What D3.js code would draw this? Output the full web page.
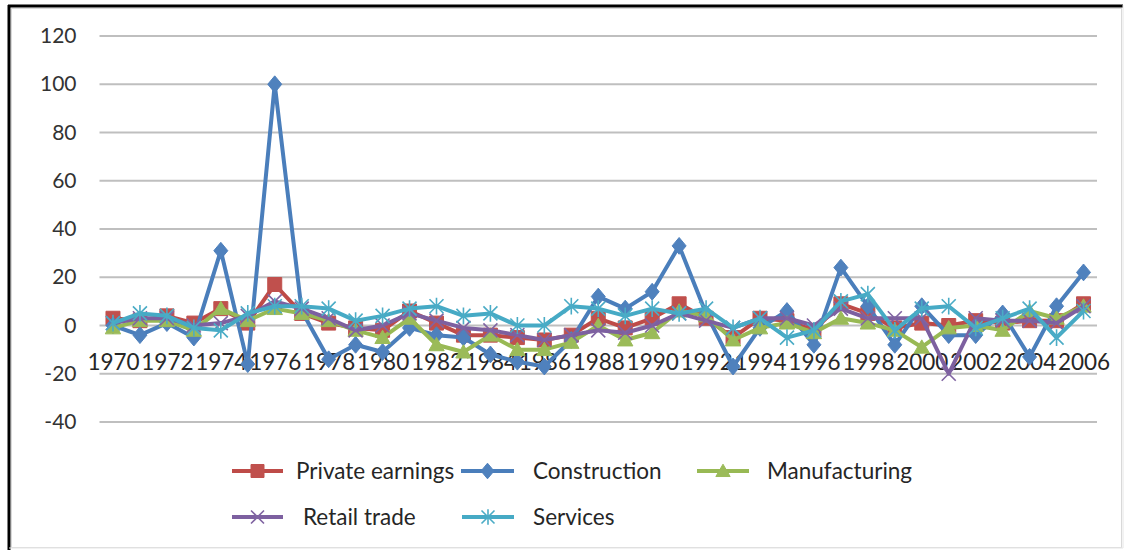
<!DOCTYPE html>
<html><head><meta charset="utf-8">
<script src="https://cdn.jsdelivr.net/npm/d3@7"></script>
<style>
html,body{margin:0;padding:0;background:#fff;}
svg{display:block;font-family:Lato,"Open Sans",sans-serif;}
</style></head>
<body><svg id="c" width="1130" height="550"></svg>
<script>
const years = d3.range(1970, 2007);
const tickYears = years.filter(y => y % 2 === 0);
const yTicks = [-40, -20, 0, 20, 40, 60, 80, 100, 120];
const seriesNames = ["Private earnings", "Construction", "Manufacturing", "Retail trade", "Services"];
const privateEarnings = [3, 2, 4, 1, 7, 1, 17, 5, 1, -1, -2, 6, 1, -4, -4, -5, -6, -4, 3, -1, 3, 9, 3, -5, 3, 2, -2, 9, 5, -1, 1, 0, 2, 1, 2, 2, 9];
const construction = [0, -4, 1, -5, 31, -16, 100, 6, -14, -8, -11, -1, -4, -5, -12, -15, -17, -6, 12, 7, 14, 33, 5, -17, -1, 6, -8, 24, 8, -8, 8, -4, -4, 5, -13, 8, 22];
const manufacturing = [-1, 2, 2, -2, 7, 2, 7, 5, 2, -2, -5, 3, -8, -11, -4, -10, -10, -7, 0, -6, -3, 6, 4, -6, -1, 1, -3, 3, 1, -2, -9, -1, 0, -2, 6, 3, 8];
const retailTrade = [1, 3, 3, 0, 1, 4, 10, 7, 3, -2, 0, 5, 2, -1, -2, -4, -6, -4, -2, -3, 0, 5, 2, -1, 3, 3, 0, 7, 3, 3, 3, -20, 3, 2, 2, 1, 8];
const services = [1, 5, 4, -1, -2, 5, 8, 8, 7, 2, 4, 7, 8, 4, 5, 0, 0, 8, 7, 4, 7, 5, 7, -1, 3, -5, -2, 10, 13, -2, 7, 8, -1, 3, 7, -5, 6];
const seriesValues = [privateEarnings, construction, manufacturing, retailTrade, services];
const lineColors = ["#BE4B48", "#4A7EBB", "#98B954", "#7D60A0", "#46AAC5"];
const markerFill = ["#C0504D", "#4F81BD", "#9BBB59", "#8064A2", "#4BACC6"];
const markerTypes = ["square", "diamond", "triangle", "x", "star"];

const svg = d3.select("#c");

// frame
svg.append("rect").attr("x", 11.5).attr("y", 8.5).attr("width", 1110).attr("height", 539)
  .attr("fill", "#fff").attr("stroke", "#d9d9d9").attr("stroke-width", 1);
svg.append("line").attr("x1", 8).attr("x2", 1123).attr("y1", 6).attr("y2", 6).attr("stroke", "#000").attr("stroke-width", 3);
svg.append("line").attr("x1", 9).attr("x2", 9).attr("y1", 5).attr("y2", 550).attr("stroke", "#000").attr("stroke-width", 3);
svg.append("line").attr("x1", 1123).attr("x2", 1123).attr("y1", 5).attr("y2", 548).attr("stroke", "#e6e6e6").attr("stroke-width", 1);
svg.append("line").attr("x1", 9).attr("x2", 1123).attr("y1", 548).attr("y2", 548).attr("stroke", "#e6e6e6").attr("stroke-width", 1);

const x = d3.scalePoint().domain(years).range([99.5, 1097]).padding(0.5);
const y = d3.scaleLinear().domain([-40, 120]).range([422, 36]);

// gridlines
svg.append("g").selectAll("line").data(yTicks).join("line")
  .attr("x1", 99.5).attr("x2", 1097)
  .attr("y1", d => y(d)).attr("y2", d => y(d))
  .attr("stroke", "#bfbfbf").attr("stroke-width", 2);

// y axis
const gy = svg.append("g").attr("transform", "translate(99.5,0)")
  .call(d3.axisLeft(y).tickValues(yTicks).tickSize(0).tickPadding(23).tickFormat(d => String(d)));
gy.select(".domain").remove();
gy.selectAll("text").attr("font-size", 21).attr("fill", "#333").attr("font-family", "Lato, sans-serif");

// x axis
const gx = svg.append("g").attr("transform", `translate(0,${y(0)})`)
  .call(d3.axisBottom(x).tickValues(tickYears).tickSize(0));
gx.select(".domain").remove();
gx.selectAll("text").attr("y", 44).attr("dy", 0).attr("font-size", 22.5).attr("fill", "#262626")
  .attr("font-family", "Lato, sans-serif");

function markerPath(type, s) {
  switch (type) {
    case "square": return `M${-s},${-s}H${s}V${s}H${-s}Z`;
    case "diamond": return `M0,${-s * 1.2}L${s},0L0,${s * 1.2}L${-s},0Z`;
    case "triangle": return `M0,${-s * 1.05}L${s * 1.1},${s * 0.85}L${-s * 1.1},${s * 0.85}Z`;
    case "x": return `M${-s},${-s}L${s},${s}M${-s},${s}L${s},${-s}`;
    case "star": return `M${-s},${-s}L${s},${s}M${-s},${s}L${s},${-s}M0,${-s * 1.2}V${s * 1.2}`;
  }
}
function drawMarker(g, type, i, s) {
  const open = type === "x" || type === "star";
  return g.append("path").attr("d", markerPath(type, s))
    .attr("fill", open ? "none" : markerFill[i])
    .attr("stroke", markerFill[i]).attr("stroke-width", open ? 1.6 : 1);
}

const line = d3.line().x((d, j) => x(years[j])).y(d => y(d));
seriesValues.forEach((vals, i) => {
  const g = svg.append("g");
  g.append("path").datum(vals).attr("d", line).attr("fill", "none")
    .attr("stroke", lineColors[i]).attr("stroke-width", 4).attr("stroke-linejoin", "round");
  vals.forEach((v, j) => {
    const m = drawMarker(g, markerTypes[i], i, 7);
    m.attr("transform", `translate(${x(years[j])},${y(v)})`);
  });
});

// legend
const legendItems = [
  {i: 0, x1: 232, x2: 283, tx: 296, y: 471},
  {i: 1, x1: 461, x2: 514, tx: 533, y: 471},
  {i: 2, x1: 697, x2: 749, tx: 767, y: 471},
  {i: 3, x1: 232, x2: 283, tx: 303, y: 517},
  {i: 4, x1: 462, x2: 514, tx: 533, y: 517}
];
const lg = svg.append("g");
legendItems.forEach(it => {
  lg.append("line").attr("x1", it.x1).attr("x2", it.x2).attr("y1", it.y).attr("y2", it.y)
    .attr("stroke", lineColors[it.i]).attr("stroke-width", 4);
  drawMarker(lg, markerTypes[it.i], it.i, 6.5).attr("transform", `translate(${(it.x1 + it.x2) / 2},${it.y})`);
  lg.append("text").attr("x", it.tx).attr("y", it.y).attr("dy", "0.35em")
    .attr("font-size", 22.5).attr("fill", "#262626").text(seriesNames[it.i]);
});
</script></body></html>
